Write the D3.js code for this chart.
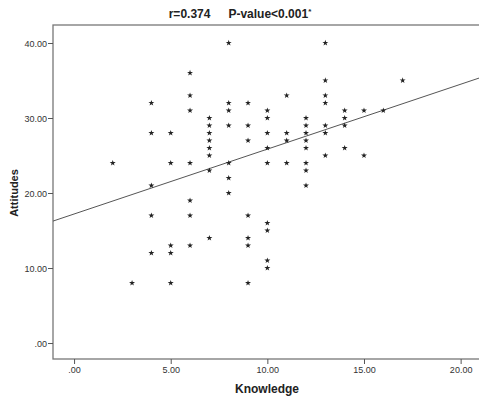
<!DOCTYPE html>
<html>
<head>
<meta charset="utf-8">
<script src="https://cdn.jsdelivr.net/npm/d3@7"></script>
<style>
  body { margin: 0; background: #fff; }
  svg { display: block; font-family: "Liberation Sans", Arial, sans-serif; }
</style>
</head>
<body>
<svg id="chart" width="479" height="396"></svg>
<script>
// Knowledge (x) vs Attitudes (y)
const knowledge = [
  2, 3, 4, 4, 4, 4, 4, 5, 5, 5, 5, 5, 6, 6, 6, 6, 6, 6, 6,
  7, 7, 7, 7, 7, 7, 7, 7, 8, 8, 8, 8, 8, 8, 8, 9, 9, 9, 9, 9, 9, 9,
  10, 10, 10, 10, 10, 10, 10, 10, 10, 11, 11, 11, 11,
  12, 12, 12, 12, 12, 12, 12, 12, 13, 13, 13, 13, 13, 13, 13,
  14, 14, 14, 14, 15, 15, 16, 17
];
const attitudes = [
  24, 8, 32, 28, 21, 17, 12, 28, 24, 13, 12, 8, 36, 33, 31, 24, 19, 17, 13,
  30, 29, 28, 27, 26, 25, 23, 14, 40, 32, 31, 29, 24, 22, 20, 32, 29, 27, 17, 14, 13, 8,
  31, 30, 28, 26, 24, 16, 15, 11, 10, 33, 28, 27, 24,
  30, 29, 28, 27, 26, 24, 23, 21, 40, 35, 33, 32, 29, 28, 25,
  31, 30, 29, 26, 31, 25, 31, 35
];
const xTicks = [0, 5, 10, 15, 20];
const yTicks = [0, 10, 20, 30, 40];
// fit line
const fitIntercept = 17.2;
const fitSlope = 0.865;

const title = "r=0.374";
const titleP = "P-value<0.001";
const xLabel = "Knowledge";
const yLabel = "Attitudes";

const svg = d3.select("#chart");
const plot = { left: 53, right: 479, top: 25, bottom: 359 };

const x = d3.scaleLinear().domain([-1.09, 20.95]).range([plot.left, plot.right]);
const y = d3.scaleLinear().domain([-2.13, 42.4]).range([plot.bottom, plot.top]);

const fmt = v => d3.format(".2f")(v).replace(/^0\./, ".");

// frame
svg.append("rect")
  .attr("x", plot.left).attr("y", plot.top)
  .attr("width", plot.right - plot.left + 2).attr("height", plot.bottom - plot.top)
  .attr("fill", "none").attr("stroke", "#777").attr("stroke-width", 1.3);

const xAxis = svg.append("g")
  .attr("transform", `translate(0,${plot.bottom})`)
  .call(d3.axisBottom(x).tickValues(xTicks).tickFormat(fmt).tickSize(5).tickSizeOuter(0));
const yAxis = svg.append("g")
  .attr("transform", `translate(${plot.left},0)`)
  .call(d3.axisLeft(y).tickValues(yTicks).tickFormat(fmt).tickSize(5).tickSizeOuter(0));

[xAxis, yAxis].forEach(g => {
  g.select(".domain").remove();
  g.selectAll(".tick line").attr("stroke", "#555");
  g.selectAll(".tick text").attr("fill", "#333").style("font-size", "9px");
});
yAxis.selectAll(".tick text").attr("x", -6).attr("dy", "0.35em");
xAxis.selectAll(".tick text").attr("y", 8);

// fit line
svg.append("line")
  .attr("x1", x(-1.09)).attr("y1", y(fitIntercept + fitSlope * -1.09))
  .attr("x2", x(20.95)).attr("y2", y(fitIntercept + fitSlope * 20.95))
  .attr("stroke", "#555").attr("stroke-width", 1);

// points
const star = d3.symbol().type(d3.symbolStar).size(11);
svg.append("g").selectAll("path")
  .data(knowledge.map((k, i) => [k, attitudes[i]]))
  .join("path")
  .attr("d", star)
  .attr("transform", d => `translate(${x(d[0])},${y(d[1])})`)
  .attr("fill", "#222");

// title
const t = svg.append("text")
  .attr("x", 240).attr("y", 18)
  .attr("text-anchor", "middle")
  .style("font-size", "12px").style("font-weight", "600").attr("fill", "#222");
t.append("tspan").text(title);
t.append("tspan").attr("dx", 18).text(titleP);
t.append("tspan").attr("dy", -4).style("font-size", "8px").text("*");

svg.append("text")
  .attr("x", 267).attr("y", 393)
  .attr("text-anchor", "middle")
  .style("font-size", "12px").style("font-weight", "bold").attr("fill", "#222")
  .text(xLabel);

svg.append("text")
  .attr("transform", "translate(18,193) rotate(-90)")
  .attr("text-anchor", "middle")
  .style("font-size", "11px").style("font-weight", "bold").attr("fill", "#222")
  .text(yLabel);
</script>
</body>
</html>
